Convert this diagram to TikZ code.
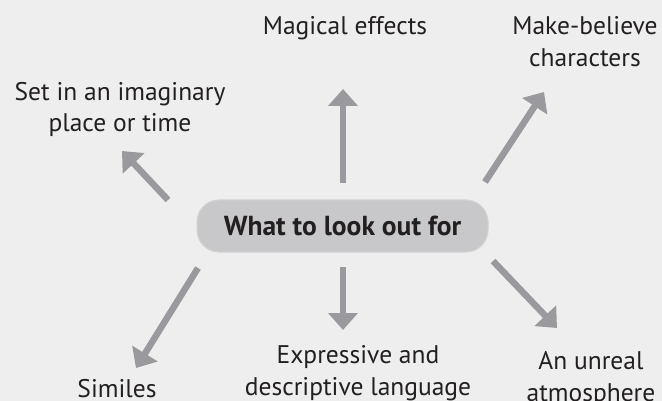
\documentclass[tikz,border=0pt]{standalone}
\usepackage{fontspec}
\setmainfont{PT Sans}
\usetikzlibrary{arrows.meta}
\definecolor{bg}{HTML}{EEEEEE}
\definecolor{arr}{HTML}{9A9A9E}
\definecolor{hub}{HTML}{C8C8CA}
\definecolor{txt}{HTML}{231F20}
\begin{document}
\begin{tikzpicture}[x=1pt,y=-1pt,
  lbl/.style={text=txt,font=\fontsize{25.5}{32}\selectfont,align=center,inner sep=0pt,anchor=base},
  hubnode/.style={fill=hub,draw=hub!80!white,line width=1pt,rounded corners=22pt,minimum width=291pt,minimum height=52pt,inner sep=0pt,text=txt,font=\fontsize{27.5}{30}\bfseries\selectfont},
  arrow/.style={draw=arr,line width=6.5pt,-{Triangle[width=29pt,length=17pt,fill=arr]}}]
\fill[bg] (0,0) rectangle (662,401);
\useasboundingbox (0,0) rectangle (662,401);
\node[hubnode] (hub) at (342.5,226) {What to look out for};
\node[lbl] (magic) at (345,35) {Magical effects};
\node[lbl] (make) at (585,67) {Make-believe\\characters};
\node[lbl] (set) at (120,132) {Set in an imaginary\\place or time};
\node[lbl] (sim) at (117,397) {Similes};
\node[lbl] (expr) at (358,395) {Expressive and\\descriptive language};
\node[lbl] (unreal) at (591,401) {An unreal\\atmosphere};
\coordinate (mA) at (343,183); \coordinate (mB) at (343,89);
\coordinate (kA) at (485,182); \coordinate (kB) at (544,92);
\coordinate (sA) at (168,200); \coordinate (sB) at (122,151);
\coordinate (iA) at (198,268); \coordinate (iB) at (136,368);
\coordinate (eA) at (343,267); \coordinate (eB) at (343,330);
\coordinate (uA) at (493,261); \coordinate (uB) at (557,328);
\draw[arrow] (mA) -- (mB);
\draw[arrow] (kA) -- (kB);
\draw[arrow] (sA) -- (sB);
\draw[arrow] (iA) -- (iB);
\draw[arrow] (eA) -- (eB);
\draw[arrow] (uA) -- (uB);
\end{tikzpicture}
\end{document}
